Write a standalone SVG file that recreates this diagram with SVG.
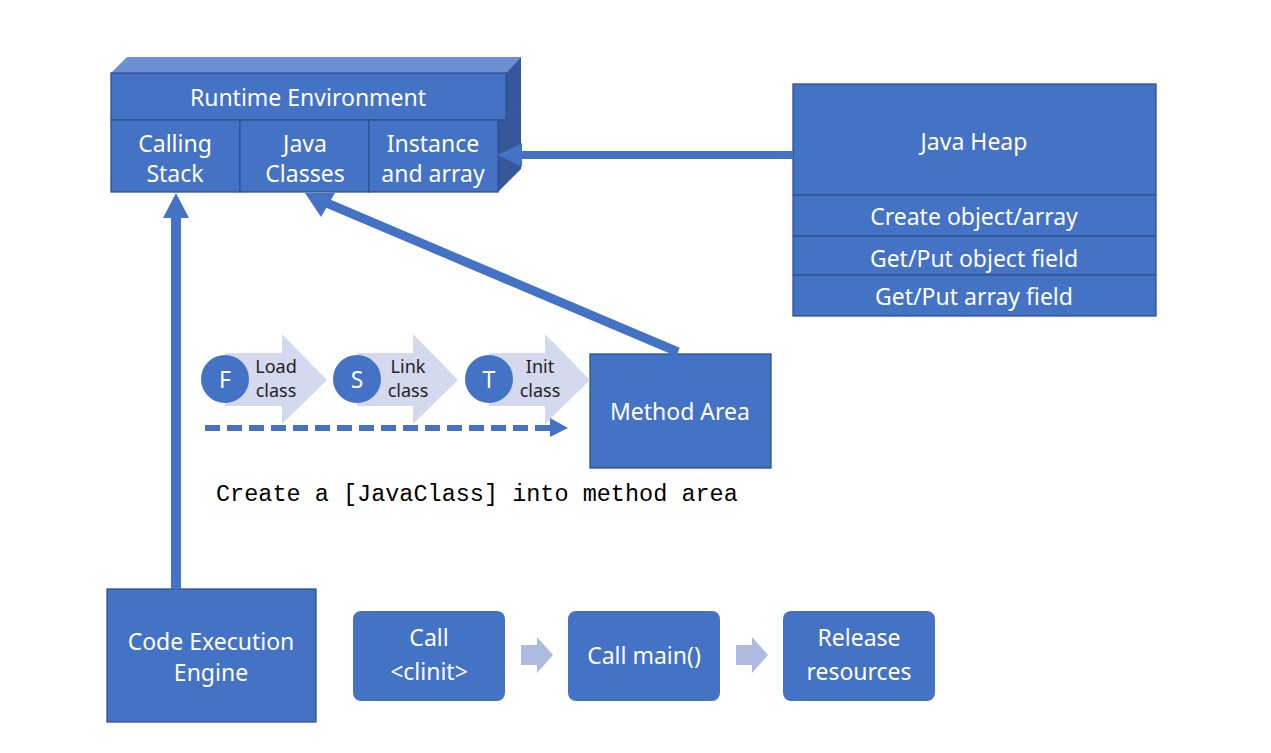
<svg xmlns="http://www.w3.org/2000/svg" width="1271" height="753" viewBox="0 0 1271 753">
<style>
.box{fill:#4472c4;stroke:#2f528f;stroke-width:1.3}
.cell{fill:#4472c4;stroke:#2f528f;stroke-width:1.3}
.t{font-family:"Noto Sans","Liberation Sans",sans-serif;font-size:23px;fill:#ffffff;text-anchor:middle;dominant-baseline:central}
.s{font-family:"Noto Sans","Liberation Sans",sans-serif;font-size:18px;fill:#222222;text-anchor:middle;dominant-baseline:central}
.chev{fill:#d4d9ee}
.circ{fill:#4472c4}
.mono{font-family:"Liberation Mono","DejaVu Sans Mono",monospace;font-size:23.5px;fill:#000000}
.small{fill:#aebbe0}
</style>
<rect width="1271" height="753" fill="#ffffff"/>

<g id="runtime-env">
  <polygon points="111,73 127,57 521,57 506,73" fill="#6a8fd2"/>
  <polygon points="506,73 521,57 521,105 506,120" fill="#36589a"/>
  <polygon points="498,120 521,105 521,169 498,192" fill="#36589a"/>
  <rect x="111" y="73" width="395" height="47" class="box"/>
  <text class="t" x="308" y="97">Runtime Environment</text>
  <rect x="111" y="120" width="129" height="72" class="cell"/>
  <rect x="240" y="120" width="129" height="72" class="cell"/>
  <rect x="369" y="120" width="129" height="72" class="cell"/>
  <text class="t" x="175" y="143">Calling</text>
  <text class="t" x="175" y="173">Stack</text>
  <text class="t" x="305" y="143">Java</text>
  <text class="t" x="305" y="173">Classes</text>
  <text class="t" x="433" y="143">Instance</text>
  <text class="t" x="433" y="173">and array</text>
</g>

<g id="java-heap">
  <rect x="793" y="84" width="363" height="232" class="box"/>
  <line x1="793" y1="195" x2="1156" y2="195" stroke="#2f528f" stroke-width="1.3"/>
  <line x1="793" y1="236" x2="1156" y2="236" stroke="#2f528f" stroke-width="1.3"/>
  <line x1="793" y1="275" x2="1156" y2="275" stroke="#2f528f" stroke-width="1.3"/>
  <text class="t" x="974" y="141">Java Heap</text>
  <text class="t" x="974" y="216">Create object/array</text>
  <text class="t" x="974" y="258">Get/Put object field</text>
  <text class="t" x="974" y="296">Get/Put array field</text>
</g>

<g id="method-area">
  <rect x="590" y="354" width="181" height="114" class="box"/>
  <text class="t" x="680" y="411">Method Area</text>
</g>

<g id="class-loading">
  <polygon class="chev" points="225,353 282,353 282,334 327,380 282,424 282,406 225,406"/>
  <polygon class="chev" points="357,353 413,353 413,334 458,380 413,424 413,406 357,406"/>
  <polygon class="chev" points="489,353 545,353 545,334 590,380 545,424 545,406 489,406"/>
  <circle class="circ" cx="225" cy="379" r="24"/>
  <circle class="circ" cx="357" cy="379" r="24"/>
  <circle class="circ" cx="489" cy="379" r="24"/>
  <text class="t" x="225" y="379">F</text>
  <text class="t" x="357" y="379">S</text>
  <text class="t" x="489" y="379">T</text>
  <text class="s" x="276" y="366">Load</text>
  <text class="s" x="276" y="390">class</text>
  <text class="s" x="408" y="366">Link</text>
  <text class="s" x="408" y="390">class</text>
  <text class="s" x="540" y="366">Init</text>
  <text class="s" x="540" y="390">class</text>
</g>

<text class="mono" x="216" y="501">Create a [JavaClass] into method area</text>

<g id="code-engine">
  <rect x="107" y="589" width="209" height="133" class="box"/>
  <text class="t" x="211" y="641">Code Execution</text>
  <text class="t" x="211" y="672">Engine</text>
</g>

<g id="call-clinit">
  <rect x="353" y="611" width="152" height="90" rx="8" fill="#4472c4"/>
  <text class="t" x="429" y="637">Call</text>
  <text class="t" x="429" y="671">&lt;clinit&gt;</text>
</g>
<g id="call-main">
  <rect x="568" y="611" width="152" height="90" rx="8" fill="#4472c4"/>
  <text class="t" x="644" y="655">Call main()</text>
</g>
<g id="release">
  <rect x="783" y="611" width="152" height="90" rx="8" fill="#4472c4"/>
  <text class="t" x="859" y="637">Release</text>
  <text class="t" x="859" y="671">resources</text>
</g>

<g id="connectors">
  <rect x="520" y="151" width="273" height="8" fill="#4472c4"/>
  <polygon points="498,155 522,143 522,167" fill="#4472c4"/>
  <line x1="678" y1="352" x2="322" y2="201" stroke="#4472c4" stroke-width="9"/>
  <polygon points="305,193 335,193 321,217" fill="#4472c4"/>
  <rect x="171" y="216" width="10" height="373" fill="#4472c4"/>
  <polygon points="176,193 189,218 163,218" fill="#4472c4"/>
  <line x1="205" y1="428" x2="551" y2="428" stroke="#4472c4" stroke-width="6" stroke-dasharray="15,7"/>
  <polygon points="550,418 568,428 550,437" fill="#4472c4"/>
  <polygon class="small" points="521,645 537,645 537,637 553,655 537,673 537,665 521,665"/>
  <polygon class="small" points="736,645 752,645 752,637 768,655 752,673 752,665 736,665"/>
</g>
</svg>
